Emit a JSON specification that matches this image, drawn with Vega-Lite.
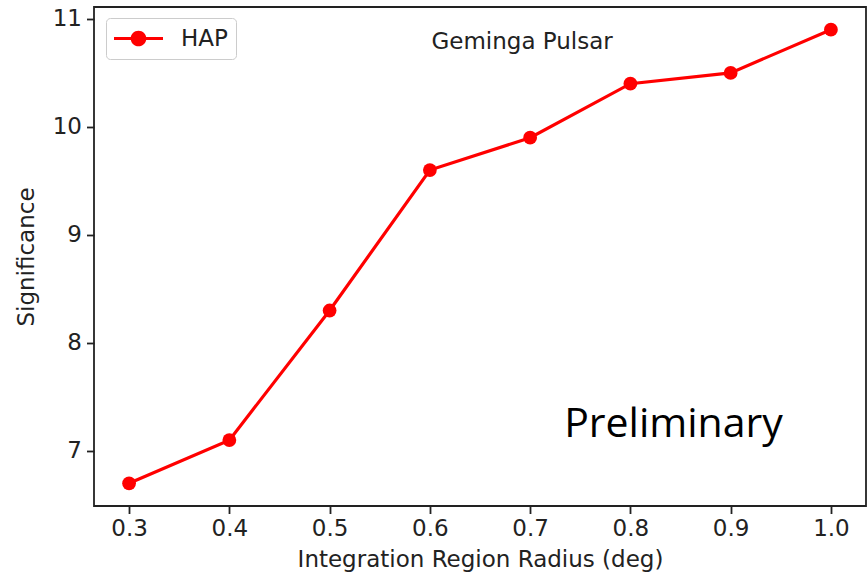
{
  "$schema": "https://vega.github.io/schema/vega-lite/v6.json",
  "width": 772,
  "height": 499,
  "autosize": {"type": "none"},
  "padding": {"left": 94, "top": 7, "right": 2, "bottom": 71},
  "background": "white",
  "config": {
    "view": {"stroke": "#222222", "strokeWidth": 1.8},
    "font": "DejaVu Sans",
    "axis": {
      "grid": false,
      "domain": false,
      "tickColor": "#222222",
      "tickSize": 7.5,
      "tickWidth": 1.8,
      "labelFont": "DejaVu Sans",
      "labelFontSize": 23,
      "labelColor": "#222222",
      "titleFont": "DejaVu Sans",
      "titleFontSize": 23,
      "titleFontWeight": "normal",
      "titleColor": "#222222"
    }
  },
  "data": {
    "values": [
      {"r": 0.3, "sig": 6.7, "series": "HAP"},
      {"r": 0.4, "sig": 7.1, "series": "HAP"},
      {"r": 0.5, "sig": 8.3, "series": "HAP"},
      {"r": 0.6, "sig": 9.6, "series": "HAP"},
      {"r": 0.7, "sig": 9.9, "series": "HAP"},
      {"r": 0.8, "sig": 10.4, "series": "HAP"},
      {"r": 0.9, "sig": 10.5, "series": "HAP"},
      {"r": 1.0, "sig": 10.9, "series": "HAP"}
    ]
  },
  "encoding": {
    "x": {
      "field": "r",
      "type": "quantitative",
      "scale": {"domain": [0.265, 1.035], "nice": false, "zero": false},
      "axis": {"values": [0.3, 0.4, 0.5, 0.6, 0.7, 0.8, 0.9, 1.0], "format": ".1f", "labelPadding": 4, "titlePadding": 8},
      "title": "Integration Region Radius (deg)"
    },
    "y": {
      "field": "sig",
      "type": "quantitative",
      "scale": {"domain": [6.49, 11.11], "nice": false, "zero": false},
      "axis": {"values": [7, 8, 9, 10, 11], "format": "d", "labelPadding": 5, "titlePadding": 14},
      "title": "Significance"
    }
  },
  "layer": [
    {
      "mark": {"type": "line", "color": "#ff0000", "strokeWidth": 3.2}
    },
    {
      "mark": {"type": "point", "filled": true, "size": 190, "opacity": 1},
      "encoding": {
        "color": {
          "field": "series",
          "type": "nominal",
          "scale": {"range": ["#ff0000"]},
          "legend": {
            "orient": "none",
            "legendX": 12,
            "legendY": 11,
            "title": null,
            "symbolType": "M-2,-0.13H-0.62V0.13H-2Z M0.62,-0.13H2V0.13H0.62Z M0.64,0A0.64,0.64,0,1,1,-0.64,0A0.64,0.64,0,1,1,0.64,0Z",
            "symbolSize": 600,
            "symbolFillColor": "#ff0000",
            "symbolStrokeWidth": 0,
            "symbolOffset": 12,
            "labelOffset": 30,
            "labelFont": "DejaVu Sans",
            "labelFontSize": 23,
            "labelColor": "#222222",
            "padding": 8,
            "strokeColor": "#cccccc",
            "cornerRadius": 4,
            "fillColor": "white",
            "encode": {"symbols": {"update": {"size": {"value": 600}, "strokeWidth": {"value": 0}}}}
          }
        }
      }
    },
    {
      "data": {"values": [{"r": 0.692, "sig": 10.723, "label": "Geminga Pulsar"}]},
      "mark": {"type": "text", "font": "DejaVu Sans", "fontSize": 23, "color": "#222222", "align": "center", "baseline": "alphabetic"},
      "encoding": {"text": {"field": "label"}}
    },
    {
      "data": {"values": [{"r": 0.843, "sig": 7.129, "label": "Preliminary"}]},
      "mark": {"type": "text", "font": "Open Sans", "fontSize": 41, "color": "#000000", "align": "center", "baseline": "alphabetic"},
      "encoding": {"text": {"field": "label"}}
    }
  ]
}
